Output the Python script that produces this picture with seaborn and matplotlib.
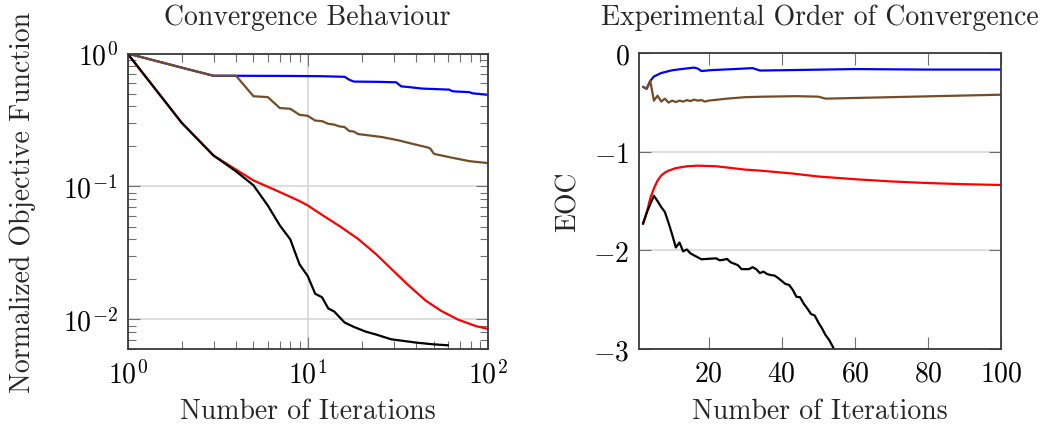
import numpy as np
import pandas as pd
import seaborn as sns
import matplotlib
matplotlib.use("Agg")
import matplotlib.pyplot as plt
from matplotlib.ticker import (LogLocator, FixedLocator, NullFormatter, NullLocator,
                               LogFormatterSciNotation)

# ---- normalized objective function per iteration ----
blue_k = [1, 2, 3, 4, 8, 12, 16, 17, 18, 25, 31, 32, 33, 36, 43, 55, 61, 63, 66, 79, 82, 90, 100]
blue_f = [1.0, 0.783, 0.68, 0.68, 0.678, 0.675, 0.668, 0.635, 0.615, 0.612, 0.607, 0.585, 0.566,
          0.56, 0.545, 0.538, 0.535, 0.522, 0.518, 0.512, 0.502, 0.496, 0.489]

brown_k = [1, 2, 3, 4, 5, 6, 7, 8, 9, 10, 11, 12, 13, 14, 15, 16, 17, 18, 19, 22, 26, 32, 40,
           46, 47, 48, 49, 50, 51, 64, 79, 100]
brown_f = [1.0, 0.783, 0.68, 0.68, 0.477, 0.47, 0.389, 0.384, 0.346, 0.34, 0.313, 0.31, 0.296,
           0.292, 0.283, 0.28, 0.261, 0.259, 0.248, 0.242, 0.235, 0.222, 0.206, 0.197, 0.195,
           0.192, 0.184, 0.177, 0.175, 0.164, 0.155, 0.150]

red_k = [1, 2, 3, 4, 5, 7, 9, 10, 12, 15, 19, 24, 29, 36, 45, 55, 68, 86, 100]
red_f = [1.0, 0.301, 0.171, 0.134, 0.111, 0.0908, 0.0777, 0.072, 0.0612, 0.0504, 0.0404,
         0.0309, 0.0241, 0.0182, 0.0139, 0.0116, 0.0100, 0.0089, 0.0085]

black_k = [1, 2, 3, 4, 5, 6, 7, 8, 9, 10, 11, 12, 13, 14, 16, 18, 21, 24, 29, 40, 50, 60]
black_f = [1.0, 0.301, 0.171, 0.130, 0.102, 0.072, 0.051, 0.040, 0.026, 0.0212, 0.0156, 0.0147,
           0.0121, 0.0115, 0.0095, 0.0088, 0.0081, 0.0077, 0.0071, 0.0067, 0.0065, 0.0064]

# ---- experimental order of convergence ----
eoc_blue_k = [2, 3, 4, 5, 7, 10, 13, 16, 17, 18, 21, 27, 32, 34, 43, 60, 79, 100]
eoc_blue = [-0.34, -0.36, -0.28, -0.235, -0.20, -0.172, -0.158, -0.145, -0.155, -0.18, -0.17,
            -0.16, -0.15, -0.175, -0.17, -0.16, -0.165, -0.165]

eoc_brown_k = [2, 3, 4, 5, 6, 7, 8, 9, 10, 11, 12, 13, 14, 15, 16, 17, 18, 19, 20, 25, 30, 35,
               44, 50, 52, 70, 100]
eoc_brown = [-0.34, -0.36, -0.28, -0.48, -0.43, -0.49, -0.46, -0.50, -0.48, -0.495, -0.48,
             -0.49, -0.475, -0.485, -0.47, -0.48, -0.475, -0.49, -0.48, -0.46, -0.445, -0.44,
             -0.435, -0.44, -0.46, -0.445, -0.42]

eoc_red_k = [2, 3, 4, 5, 6, 7, 8, 9, 11, 14, 17, 22, 30, 34, 43, 50, 61, 70, 79, 90, 100]
eoc_red = [-1.73, -1.62, -1.47, -1.37, -1.29, -1.24, -1.21, -1.19, -1.165, -1.146, -1.14,
           -1.146, -1.18, -1.19, -1.22, -1.25, -1.28, -1.30, -1.315, -1.328, -1.336]

eoc_black_k = [2, 3, 4, 5, 6, 7, 8, 9, 10, 11, 12, 13, 14, 15, 16, 17, 18, 20, 22, 23, 24, 25,
               26, 27, 28, 29, 31, 32, 33, 34, 35, 36, 37, 38, 39, 40, 41, 42, 43, 44, 45, 46,
               47, 48, 49, 50, 51, 52, 53, 54, 55, 56, 57, 58, 59, 60]
eoc_black = [-1.73, -1.62, -1.53, -1.445, -1.50, -1.56, -1.61, -1.72, -1.84, -1.97, -1.92,
             -2.01, -1.99, -2.03, -2.05, -2.07, -2.09, -2.085, -2.08, -2.10, -2.095, -2.086,
             -2.12, -2.135, -2.15, -2.19, -2.19, -2.17, -2.19, -2.23, -2.215, -2.24, -2.25,
             -2.255, -2.28, -2.31, -2.34, -2.35, -2.40, -2.47, -2.475, -2.54, -2.59, -2.645,
             -2.66, -2.73, -2.79, -2.86, -2.91, -2.98, -3.06, -3.15, -3.25, -3.38, -3.5, -3.65]

left_xticks = [1, 10, 100]
left_yticks = [1e-2, 1e-1, 1]
right_xticks = [20, 40, 60, 80, 100]
right_yticks = [-3, -2, -1, 0]

BROWN = "#734d26"
series_left = [
    (blue_k, blue_f, "#0000ff"),
    (brown_k, brown_f, BROWN),
    (red_k, red_f, "#ff0000"),
    (black_k, black_f, "#000000"),
]
series_right = [
    (eoc_blue_k, eoc_blue, "#0000ff"),
    (eoc_brown_k, eoc_brown, BROWN),
    (eoc_red_k, eoc_red, "#ff0000"),
    (eoc_black_k, eoc_black, "#000000"),
]

sns.set_style("white")
plt.rcParams.update({
    "font.family": "cmr10",
    "mathtext.fontset": "cm",
    "axes.formatter.use_mathtext": True,
    "font.size": 20,
    "axes.unicode_minus": True,
})

fig = plt.figure(figsize=(10.59, 4.35), dpi=100)
W, H = 1059, 435
ax1 = fig.add_axes([127.5 / W, 85 / H, 360.5 / W, 295.5 / H])
ax2 = fig.add_axes([639.3 / W, 85 / H, 361.7 / W, 295.7 / H])

LW = 1.6
for k, v, c in series_left:
    sns.lineplot(x=np.array(k, float), y=np.array(v, float), ax=ax1, color=c,
                 linewidth=LW, estimator=None, sort=False)
for k, v, c in series_right:
    sns.lineplot(x=np.array(k, float), y=np.array(v, float), ax=ax2, color=c,
                 linewidth=LW, estimator=None, sort=False)

GRID = "#d4d4d4"
TICK = "#707070"
SPINE = "#3a3a3a"

# left: log-log convergence
ax1.set_xscale("log")
ax1.set_yscale("log")
ax1.set_xlim(1, 100)
ax1.set_ylim(0.006, 1)
ax1.xaxis.set_major_locator(FixedLocator(left_xticks))
ax1.yaxis.set_major_locator(FixedLocator(left_yticks))
ax1.xaxis.set_minor_locator(LogLocator(base=10, subs=range(2, 10)))
ax1.yaxis.set_minor_locator(LogLocator(base=10, subs=range(2, 10)))
ax1.xaxis.set_minor_formatter(NullFormatter())
ax1.yaxis.set_minor_formatter(NullFormatter())
ax1.xaxis.set_major_formatter(LogFormatterSciNotation())
ax1.yaxis.set_major_formatter(LogFormatterSciNotation())
ax1.grid(True, which="major", color=GRID, linewidth=1.1)
ax1.set_title("Convergence Behaviour", pad=21, fontsize=20)
ax1.set_xlabel("Number of Iterations", fontsize=20)
ax1.set_ylabel("Normalized Objective Function", fontsize=20)
ax1.yaxis.set_label_coords(-0.255, 0.5)
ax1.xaxis.set_label_coords(0.5, -0.165)

# right: EOC
ax2.set_xlim(1, 100)
ax2.set_ylim(-3, 0)
ax2.xaxis.set_major_locator(FixedLocator(right_xticks))
ax2.yaxis.set_major_locator(FixedLocator(right_yticks))
ax2.xaxis.set_minor_locator(NullLocator())
ax2.yaxis.set_minor_locator(NullLocator())
ax2.grid(True, axis="y", which="major", color=GRID, linewidth=1.1)
ax2.grid(False, axis="x")
ax2.set_title("Experimental Order of Convergence", pad=21, fontsize=20)
ax2.set_xlabel("Number of Iterations", fontsize=20)
ax2.set_ylabel("EOC", fontsize=20)
ax2.yaxis.set_label_coords(-0.16, 0.5)
ax2.xaxis.set_label_coords(0.5, -0.165)

for ax in (ax1, ax2):
    ax.set_axisbelow(True)
    for s in ax.spines.values():
        s.set_visible(True)
        s.set_color(SPINE)
        s.set_linewidth(1.3)
    ax.tick_params(which="both", direction="in", top=True, right=True,
                   bottom=True, left=True, color=TICK, width=0.8,
                   labelsize=20, labelcolor="black")
    ax.tick_params(which="major", length=8.5)
    ax.tick_params(which="minor", length=5.8)
    ax.tick_params(axis="x", which="both", pad=8)
    ax.tick_params(axis="y", which="both", pad=7)

fig.savefig("out.png", dpi=100)
